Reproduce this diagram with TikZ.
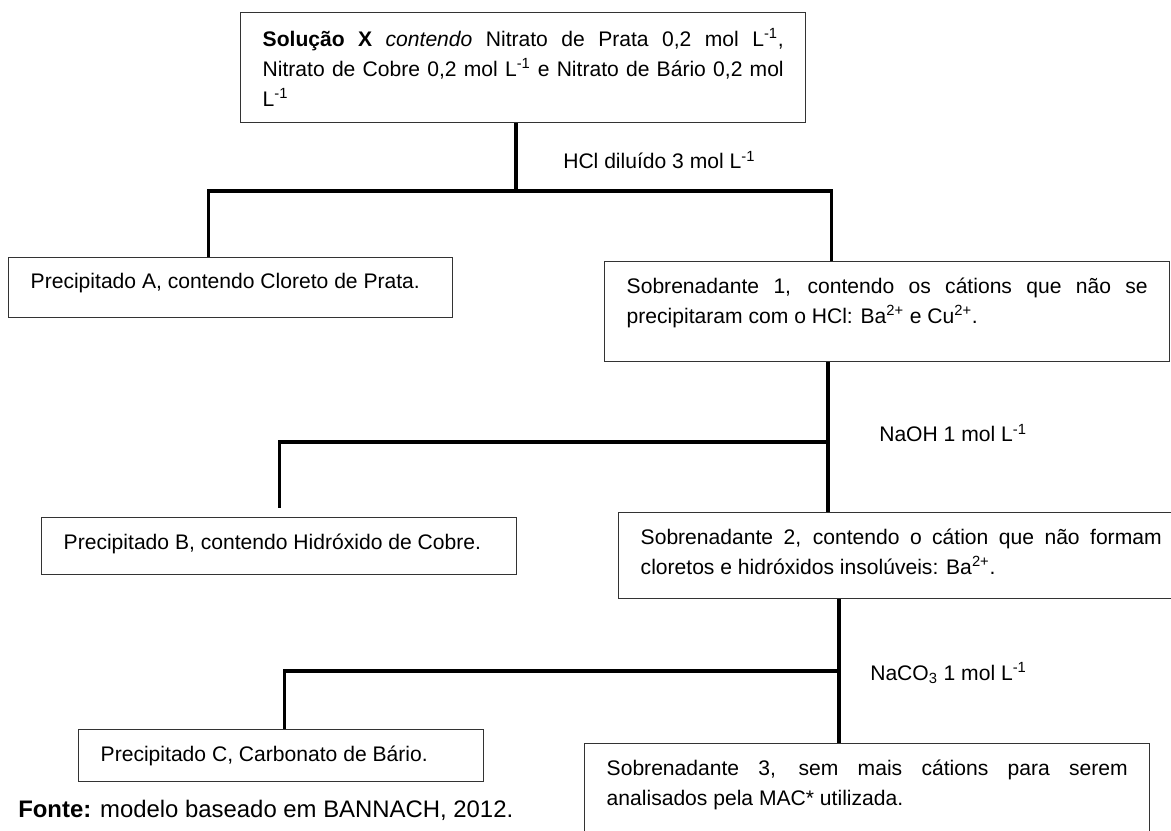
\documentclass[tikz,border=0pt]{standalone}
\usepackage{fontspec}
\setmainfont{Liberation Sans}

\begin{document}
\begin{tikzpicture}[
		caixa/.style={draw=black!80, line width=1pt, inner xsep=0.55cm, inner ysep=0.4cm, anchor=north west, font=\fontsize{15}{21.3}\selectfont},
		linha/.style={line width=2.2pt},
		rotulo/.style={anchor=west, inner sep=0pt, font=\fontsize{15}{21.3}\selectfont}]
		\useasboundingbox (0,0) rectangle (29.275,20.75);
		% caixas
		\node[caixa] (sx) at (6,20.45) {\parbox[c][1.95cm][t]{13.025cm}{\textbf{Solução X} \textit{contendo} Nitrato de Prata 0,2 mol L\textsuperscript{-1},\linebreak Nitrato de Cobre 0,2 mol L\textsuperscript{-1} e Nitrato de Bário 0,2 mol\linebreak L\textsuperscript{-1}}};
		\node[caixa] (a) at (0.2,14.325) {\parbox[c][0.7cm][t]{10cm}{Precipitado A, contendo Cloreto de Prata.}};
		\node[caixa] (s1) at (15.1,14.225) {\parbox[c][1.7cm][t]{13.025cm}{Sobrenadante 1, contendo os cátions que não se\linebreak precipitaram com o HCl: Ba\textsuperscript{2+} e Cu\textsuperscript{2+}.}};
		\node[caixa] (b) at (1.025,7.825) {\parbox[c][0.625cm][t]{10.775cm}{Precipitado B, contendo Hidróxido de Cobre.}};
		\node[caixa] (s2) at (15.45,7.95) {\parbox[c][1.35cm][t]{13.025cm}{Sobrenadante 2, contendo o cátion que não formam\linebreak cloretos e hidróxidos insolúveis: Ba\textsuperscript{2+}.}};
		\node[caixa] (c) at (1.95,2.525) {\parbox[c][0.5cm][t]{9.025cm}{Precipitado C, Carbonato de Bário.}};
		\node[caixa] (s3) at (14.6,2.175) {\parbox[c][1.7cm][t]{13.025cm}{Sobrenadante 3, sem mais cátions para serem\linebreak analisados pela MAC* utilizada.}};
		% reagentes
		\node[rotulo] (hcl) at (14.075,16.75) {HCl diluído 3 mol L\textsuperscript{-1}};
		\node[rotulo] (naoh) at (21.975,9.925) {NaOH 1 mol L\textsuperscript{-1}};
		\node[rotulo] (naco) at (21.75,3.925) {NaCO\textsubscript{3} 1 mol L\textsuperscript{-1}};
		\node[rotulo, font=\fontsize{17}{20}\selectfont] (fonte) at (0.45,0.5) {\textbf{Fonte:} modelo baseado em BANNACH, 2012.};
		% ligacoes
		\coordinate (r1) at (12.9,15.975);
		\coordinate (r2) at (20.7,9.7);
		\coordinate (r3) at (20.975,3.975);
		\draw[linha] (sx.south -| r1) -- (r1);
		\draw[linha] (r1) -| ([xshift=-0.55cm]a.north);
		\draw[linha] (r1) -| ([xshift=-1.39cm]s1.north);
		\draw[linha] (s1.south -| r2) -- (s2.north -| r2);
		\draw[linha] (r2) -| ([yshift=0.225cm]b.north);
		\draw[linha] (s2.south -| r3) -- (s3.north -| r3);
		\draw[linha] (r3) -| ([xshift=0.09cm]c.north);
\end{tikzpicture}
\end{document}
